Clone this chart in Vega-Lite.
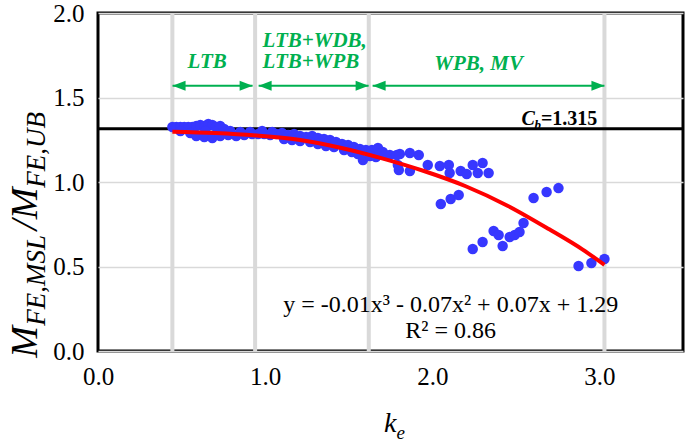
{
  "$schema": "https://vega.github.io/schema/vega-lite/v6.json",
  "autosize": "none",
  "width": 585,
  "height": 338,
  "padding": {"left": 98, "top": 13, "right": 2, "bottom": 92},
  "background": "white",
  "config": {
    "view": {"stroke": "black", "strokeWidth": 3},
    "axis": {
      "labelFont": "Liberation Serif", "labelFontSize": 25, "labelColor": "black",
      "domain": false, "ticks": false, "format": ".1f", "labelFlush": false
    },
    "text": {"font": "Liberation Serif"}
  },
  "datasets": {
    "points": [
      {"k": 0.445, "m": 1.325}, {"k": 0.469, "m": 1.325}, {"k": 0.493, "m": 1.325}, {"k": 0.516, "m": 1.325},
      {"k": 0.540, "m": 1.325}, {"k": 0.564, "m": 1.325}, {"k": 0.588, "m": 1.331}, {"k": 0.612, "m": 1.337},
      {"k": 0.636, "m": 1.331}, {"k": 0.660, "m": 1.343}, {"k": 0.684, "m": 1.337}, {"k": 0.707, "m": 1.325},
      {"k": 0.731, "m": 1.331}, {"k": 0.755, "m": 1.314},
      {"k": 0.493, "m": 1.302}, {"k": 0.642, "m": 1.302},
      {"k": 0.552, "m": 1.290}, {"k": 0.588, "m": 1.272}, {"k": 0.636, "m": 1.266}, {"k": 0.684, "m": 1.260},
      {"k": 0.731, "m": 1.272}, {"k": 0.779, "m": 1.278}, {"k": 0.827, "m": 1.272}, {"k": 0.875, "m": 1.278},
      {"k": 0.922, "m": 1.284}, {"k": 0.958, "m": 1.284}, {"k": 0.994, "m": 1.284}, {"k": 1.030, "m": 1.278},
      {"k": 0.791, "m": 1.302}, {"k": 0.851, "m": 1.296}, {"k": 0.910, "m": 1.296}, {"k": 0.982, "m": 1.302},
      {"k": 1.042, "m": 1.296},
      {"k": 1.066, "m": 1.284}, {"k": 1.101, "m": 1.290}, {"k": 1.137, "m": 1.278}, {"k": 1.173, "m": 1.284},
      {"k": 1.209, "m": 1.272}, {"k": 1.245, "m": 1.266}, {"k": 1.281, "m": 1.272}, {"k": 1.316, "m": 1.260},
      {"k": 1.352, "m": 1.254}, {"k": 1.388, "m": 1.249}, {"k": 1.424, "m": 1.237}, {"k": 1.460, "m": 1.225},
      {"k": 1.496, "m": 1.219}, {"k": 1.531, "m": 1.207}, {"k": 1.567, "m": 1.195}, {"k": 1.603, "m": 1.189},
      {"k": 1.639, "m": 1.189}, {"k": 1.675, "m": 1.201},
      {"k": 1.113, "m": 1.254}, {"k": 1.161, "m": 1.249}, {"k": 1.209, "m": 1.243}, {"k": 1.269, "m": 1.237},
      {"k": 1.316, "m": 1.225}, {"k": 1.364, "m": 1.213}, {"k": 1.412, "m": 1.207}, {"k": 1.472, "m": 1.189},
      {"k": 1.519, "m": 1.178}, {"k": 1.555, "m": 1.166}, {"k": 1.585, "m": 1.130}, {"k": 1.627, "m": 1.154},
      {"k": 1.663, "m": 1.148},
      {"k": 1.687, "m": 1.172}, {"k": 1.704, "m": 1.178}, {"k": 1.746, "m": 1.160}, {"k": 1.788, "m": 1.160},
      {"k": 1.794, "m": 1.101},
      {"k": 1.716, "m": 1.160}, {"k": 1.806, "m": 1.166}, {"k": 1.866, "m": 1.172}, {"k": 1.919, "m": 1.160},
      {"k": 1.800, "m": 1.071}, {"k": 1.866, "m": 1.065}, {"k": 1.973, "m": 1.101}, {"k": 2.045, "m": 1.095},
      {"k": 2.099, "m": 1.101}, {"k": 2.104, "m": 1.053}, {"k": 2.170, "m": 1.065}, {"k": 2.206, "m": 1.047},
      {"k": 2.242, "m": 1.101}, {"k": 2.301, "m": 1.112}, {"k": 2.272, "m": 1.053}, {"k": 2.337, "m": 1.053},
      {"k": 2.051, "m": 0.870}, {"k": 2.110, "m": 0.899}, {"k": 2.158, "m": 0.923},
      {"k": 2.606, "m": 0.905}, {"k": 2.684, "m": 0.941}, {"k": 2.755, "m": 0.964},
      {"k": 2.242, "m": 0.604}, {"k": 2.301, "m": 0.645}, {"k": 2.367, "m": 0.710}, {"k": 2.397, "m": 0.686},
      {"k": 2.421, "m": 0.621}, {"k": 2.463, "m": 0.675}, {"k": 2.493, "m": 0.686}, {"k": 2.522, "m": 0.704},
      {"k": 2.546, "m": 0.757},
      {"k": 2.875, "m": 0.503}, {"k": 2.952, "m": 0.521}, {"k": 3.030, "m": 0.544}
    ],
    "trend": [
      {"k": 0.445, "m": 1.298}, {"k": 0.7, "m": 1.290}, {"k": 0.95, "m": 1.275}, {"k": 1.2, "m": 1.250},
      {"k": 1.45, "m": 1.203}, {"k": 1.7, "m": 1.140}, {"k": 1.95, "m": 1.065}, {"k": 2.2, "m": 0.975},
      {"k": 2.45, "m": 0.860}, {"k": 2.7, "m": 0.720}, {"k": 2.9, "m": 0.600}, {"k": 3.03, "m": 0.510}
    ],
    "bounds": [{"k": 0.445}, {"k": 0.94}, {"k": 1.62}, {"k": 3.03}],
    "arrows": [
      {"start": 0.446, "end": 0.925, "m": 1.57},
      {"start": 0.961, "end": 1.619, "m": 1.57},
      {"start": 1.643, "end": 3.03, "m": 1.57}
    ]
  },
  "layer": [
    {
      "data": {"name": "points"},
      "mark": {"type": "circle", "opacity": 0},
      "encoding": {
        "x": {"field": "k", "type": "quantitative", "title": null,
              "scale": {"domain": [0, 3.5], "nice": false},
              "axis": {"values": [0, 1, 2, 3], "grid": false, "labelPadding": 13}},
        "y": {"field": "m", "type": "quantitative", "title": null,
              "scale": {"domain": [0, 2], "nice": false},
              "axis": {"values": [0, 0.5, 1, 1.5, 2], "grid": true, "gridColor": "#D9D9D9", "gridWidth": 1.5, "labelPadding": 14}}
      }
    },
    {
      "data": {"name": "bounds"},
      "mark": {"type": "rule", "color": "#D9D9D9", "strokeWidth": 4},
      "encoding": {"x": {"field": "k", "type": "quantitative", "title": null}}
    },
    {
      "data": {"values": [{"m": 1.315}]},
      "mark": {"type": "rule", "color": "black", "strokeWidth": 3},
      "encoding": {"y": {"field": "m", "type": "quantitative", "title": null}}
    },
    {
      "data": {"name": "points"},
      "mark": {"type": "circle", "color": "#3737FF", "opacity": 1, "size": 110},
      "encoding": {
        "x": {"field": "k", "type": "quantitative", "title": null},
        "y": {"field": "m", "type": "quantitative", "title": null}
      }
    },
    {
      "data": {"name": "trend"},
      "mark": {"type": "line", "color": "#FF0000", "strokeWidth": 4, "interpolate": "monotone"},
      "encoding": {
        "x": {"field": "k", "type": "quantitative", "title": null},
        "y": {"field": "m", "type": "quantitative", "title": null}
      }
    },
    {
      "data": {"name": "arrows"},
      "mark": {"type": "rule", "color": "#00B050", "strokeWidth": 2},
      "encoding": {
        "x": {"field": "start", "type": "quantitative", "title": null},
        "x2": {"field": "end"},
        "y": {"field": "m", "type": "quantitative", "title": null}
      }
    },
    {
      "data": {"name": "arrows"},
      "mark": {"type": "point", "shape": "M0,0L2.6,-1L2.6,1Z", "filled": true, "color": "#00B050", "opacity": 1, "size": 100},
      "encoding": {
        "x": {"field": "start", "type": "quantitative", "title": null},
        "y": {"field": "m", "type": "quantitative", "title": null}
      }
    },
    {
      "data": {"name": "arrows"},
      "mark": {"type": "point", "shape": "M0,0L-2.6,-1L-2.6,1Z", "filled": true, "color": "#00B050", "opacity": 1, "size": 100},
      "encoding": {
        "x": {"field": "end", "type": "quantitative", "title": null},
        "y": {"field": "m", "type": "quantitative", "title": null}
      }
    },
    {
      "data": {"values": [
        {"text": "LTB", "k": 0.653, "m": 1.673},
        {"text": "WPB, MV", "k": 2.277, "m": 1.663}
      ]},
      "mark": {"type": "text", "fontSize": 21, "fontWeight": "bold", "fontStyle": "italic", "color": "#00B050", "align": "center", "baseline": "alphabetic"},
      "encoding": {
        "x": {"field": "k", "type": "quantitative", "title": null},
        "y": {"field": "m", "type": "quantitative", "title": null},
        "text": {"field": "text"}
      }
    },
    {
      "data": {"values": [
        {"text": "LTB+WDB,", "k": 0.984, "m": 1.801},
        {"text": "LTB+WPB", "k": 0.984, "m": 1.673}
      ]},
      "mark": {"type": "text", "fontSize": 21, "fontWeight": "bold", "fontStyle": "italic", "color": "#00B050", "align": "left", "baseline": "alphabetic"},
      "encoding": {
        "x": {"field": "k", "type": "quantitative", "title": null},
        "y": {"field": "m", "type": "quantitative", "title": null},
        "text": {"field": "text"}
      }
    },
    {
      "data": {"values": [{"text": "C", "k": 2.534, "m": 1.337}]},
      "mark": {"type": "text", "fontSize": 20, "fontWeight": "bold", "fontStyle": "italic", "color": "black", "align": "left", "baseline": "alphabetic"},
      "encoding": {
        "x": {"field": "k", "type": "quantitative", "title": null},
        "y": {"field": "m", "type": "quantitative", "title": null},
        "text": {"field": "text"}
      }
    },
    {
      "data": {"values": [{"text": "b", "k": 2.612, "m": 1.337}]},
      "mark": {"type": "text", "fontSize": 13, "fontWeight": "bold", "fontStyle": "italic", "color": "black", "align": "left", "baseline": "alphabetic", "dy": 4},
      "encoding": {
        "x": {"field": "k", "type": "quantitative", "title": null},
        "y": {"field": "m", "type": "quantitative", "title": null},
        "text": {"field": "text"}
      }
    },
    {
      "data": {"values": [{"text": "=1.315", "k": 2.650, "m": 1.337}]},
      "mark": {"type": "text", "fontSize": 20, "fontWeight": "bold", "color": "black", "align": "left", "baseline": "alphabetic"},
      "encoding": {
        "x": {"field": "k", "type": "quantitative", "title": null},
        "y": {"field": "m", "type": "quantitative", "title": null},
        "text": {"field": "text"}
      }
    },
    {
      "data": {"values": [
        {"text": "y = -0.01x³ - 0.07x² + 0.07x + 1.29", "k": 2.110, "m": 0.233},
        {"text": "R² = 0.86", "k": 2.110, "m": 0.075}
      ]},
      "mark": {"type": "text", "fontSize": 24, "color": "black", "align": "center", "baseline": "alphabetic"},
      "encoding": {
        "x": {"field": "k", "type": "quantitative", "title": null},
        "y": {"field": "m", "type": "quantitative", "title": null},
        "text": {"field": "text"}
      }
    },
    {
      "data": {"values": [
        {"text": "M", "k": -0.362, "m": -0.040},
        {"text": "/", "k": -0.362, "m": 0.714},
        {"text": "M", "k": -0.362, "m": 0.779}
      ]},
      "mark": {"type": "text", "fontSize": 38, "fontStyle": "italic", "color": "black", "align": "left", "baseline": "alphabetic", "angle": 270},
      "encoding": {
        "x": {"field": "k", "type": "quantitative", "title": null},
        "y": {"field": "m", "type": "quantitative", "title": null},
        "text": {"field": "text"}
      }
    },
    {
      "data": {"values": [
        {"text": "FE,MSL", "k": -0.362, "m": 0.150},
        {"text": "FE,UB", "k": -0.362, "m": 0.966}
      ]},
      "mark": {"type": "text", "fontSize": 27, "fontStyle": "italic", "color": "black", "align": "left", "baseline": "alphabetic", "angle": 270, "dy": 8},
      "encoding": {
        "x": {"field": "k", "type": "quantitative", "title": null},
        "y": {"field": "m", "type": "quantitative", "title": null},
        "text": {"field": "text"}
      }
    },
    {
      "data": {"values": [{"text": "k", "k": 1.786, "m": -0.479}]},
      "mark": {"type": "text", "fontSize": 28, "fontStyle": "italic", "color": "black", "align": "right", "baseline": "alphabetic"},
      "encoding": {
        "x": {"field": "k", "type": "quantitative", "title": null},
        "y": {"field": "m", "type": "quantitative", "title": null},
        "text": {"field": "text"}
      }
    },
    {
      "data": {"values": [{"text": "e", "k": 1.786, "m": -0.479}]},
      "mark": {"type": "text", "fontSize": 19, "fontStyle": "italic", "color": "black", "align": "left", "baseline": "alphabetic", "dy": 7},
      "encoding": {
        "x": {"field": "k", "type": "quantitative", "title": null},
        "y": {"field": "m", "type": "quantitative", "title": null},
        "text": {"field": "text"}
      }
    }
  ]
}
